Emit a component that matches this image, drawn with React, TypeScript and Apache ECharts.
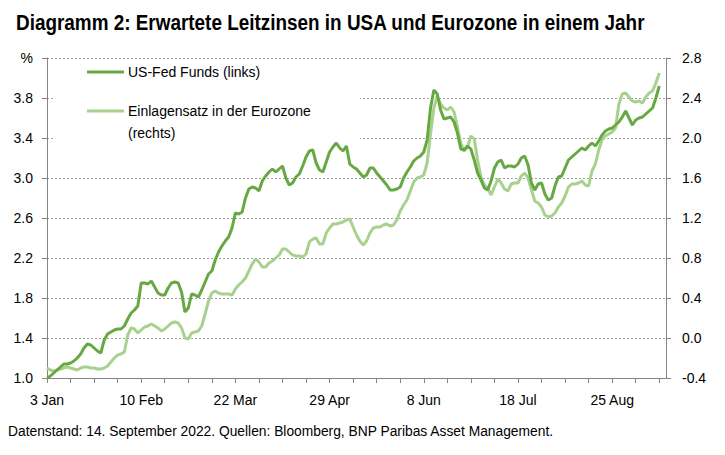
import React, { useEffect, useRef } from 'react'
import * as echarts from 'echarts'

// Erwartete Leitzinsen (Geschäftstage 3. Jan bis 14. Sep 2022)
const xTickLabels = ['3 Jan', '10 Feb', '22 Mar', '29 Apr', '8 Jun', '18 Jul', '25 Aug']

const fedFunds = [
  1.00, 1.02, 1.05, 1.08, 1.11, 1.14, 1.14, 1.15, 1.17, 1.20,
  1.24, 1.30, 1.34, 1.33, 1.30, 1.27, 1.25, 1.38, 1.44, 1.46,
  1.48, 1.49, 1.49, 1.52, 1.59, 1.65, 1.68, 1.72, 1.95, 1.95,
  1.94, 1.97, 1.91, 1.85, 1.83, 1.83, 1.90, 1.95, 1.96, 1.95,
  1.86, 1.66, 1.70, 1.84, 1.83, 1.81, 1.88, 1.96, 2.04, 2.07,
  2.18, 2.26, 2.32, 2.37, 2.41, 2.50, 2.65, 2.64, 2.66, 2.80,
  2.89, 2.91, 2.90, 2.87, 2.97, 3.02, 3.06, 3.09, 3.06, 3.09,
  3.12, 3.00, 2.93, 2.95, 3.01, 3.04, 3.12, 3.21, 3.27, 3.28,
  3.15, 3.08, 3.06, 3.16, 3.26, 3.31, 3.35, 3.30, 3.27, 3.32,
  3.14, 3.11, 3.09, 3.05, 3.01, 3.03, 3.10, 3.10, 3.05, 3.01,
  2.97, 2.93, 2.88, 2.88, 2.89, 2.91, 3.00, 3.06, 3.11, 3.17,
  3.20, 3.22, 3.26, 3.38, 3.70, 3.88, 3.84, 3.68, 3.59, 3.60,
  3.61, 3.56, 3.45, 3.29, 3.28, 3.32, 3.29, 3.18, 3.05, 2.98,
  2.90, 2.88, 2.97, 3.10, 3.16, 3.18, 3.10, 3.12, 3.12, 3.11,
  3.14, 3.20, 3.22, 3.13, 2.95, 2.88, 2.94, 2.95, 2.84, 2.78,
  2.80, 2.92, 3.01, 3.02, 3.10, 3.18, 3.21, 3.24, 3.27, 3.30,
  3.28, 3.32, 3.35, 3.32, 3.37, 3.43, 3.47, 3.49, 3.50, 3.53,
  3.56, 3.61, 3.67, 3.60, 3.53, 3.58, 3.60, 3.61, 3.64, 3.67,
  3.70, 3.80, 3.92
]

const euroDeposit = [
  -0.30, -0.32, -0.33, -0.32, -0.31, -0.30, -0.29, -0.30, -0.31, -0.32,
  -0.30, -0.29, -0.29, -0.30, -0.30, -0.31, -0.31, -0.30, -0.28, -0.24,
  -0.20, -0.17, -0.16, -0.14, 0.03, 0.10, 0.09, 0.05, 0.08, 0.11,
  0.12, 0.14, 0.12, 0.10, 0.07, 0.09, 0.12, 0.15, 0.16, 0.15,
  0.10, 0.00, -0.01, 0.05, 0.06, 0.07, 0.12, 0.24, 0.37, 0.45,
  0.47, 0.45, 0.44, 0.44, 0.44, 0.43, 0.49, 0.53, 0.56, 0.60,
  0.67, 0.74, 0.79, 0.76, 0.71, 0.71, 0.75, 0.77, 0.80, 0.83,
  0.89, 0.89, 0.86, 0.83, 0.82, 0.82, 0.81, 0.84, 0.96, 0.99,
  1.00, 0.94, 0.94, 1.05, 1.10, 1.14, 1.14, 1.15, 1.16, 1.18,
  1.19, 1.11, 1.03, 0.97, 0.93, 0.97, 1.05, 1.10, 1.11, 1.11,
  1.13, 1.14, 1.12, 1.13, 1.18, 1.27, 1.33, 1.38, 1.47, 1.56,
  1.60, 1.61, 1.63, 1.75, 2.04, 2.30, 2.42, 2.34, 2.30, 2.28,
  2.31, 2.26, 2.11, 1.95, 1.87, 1.91, 2.02, 1.99, 1.78, 1.61,
  1.53, 1.50, 1.43, 1.51, 1.59, 1.55, 1.49, 1.47, 1.54, 1.55,
  1.55, 1.62, 1.65, 1.60, 1.48, 1.37, 1.35, 1.31, 1.23, 1.21,
  1.22, 1.25, 1.31, 1.35, 1.42, 1.51, 1.54, 1.54, 1.55, 1.57,
  1.53, 1.52, 1.67, 1.74, 1.88, 1.98, 2.02, 2.04, 2.06, 2.10,
  2.34, 2.44, 2.45, 2.41, 2.37, 2.36, 2.37, 2.35, 2.41, 2.45,
  2.47, 2.55, 2.65
]

// zwei leere Tage am Ende, damit die Achse etwas über den letzten Wert hinausreicht
const days = Array.from({ length: fedFunds.length + 2 }, (_, i) => String(i))

const DARK = '#67a843'
const LIGHT = '#a9d18e'
const AXIS = '#868686'
const FONT = "'Liberation Sans', Arial, sans-serif"

const App: React.FC = () => {
  const chartRef = useRef<HTMLDivElement>(null)

  useEffect(() => {
    if (!chartRef.current) return
    const chart = echarts.init(chartRef.current, undefined, { renderer: 'svg' })

    const option: echarts.EChartsOption = {
      animation: false,
      textStyle: { fontFamily: FONT },
      grid: { left: 47, right: 59, top: 58, bottom: 77 },
      xAxis: {
        type: 'category',
        data: days,
        boundaryGap: false,
        axisLine: { onZero: false, lineStyle: { color: AXIS } },
        axisTick: { interval: 6, length: 5, lineStyle: { color: AXIS } },
        axisLabel: {
          interval: 27,
          margin: 15,
          fontSize: 14,
          color: '#000',
          formatter: (_v: string, idx: number) => xTickLabels[idx / 28] ?? ''
        },
        splitLine: { show: false }
      },
      yAxis: [
        {
          type: 'value',
          min: 1.0,
          max: 4.2,
          interval: 0.4,
          axisLine: { show: true, lineStyle: { color: AXIS } },
          axisTick: { show: true, length: 5, lineStyle: { color: AXIS } },
          axisLabel: {
            margin: 14,
            fontSize: 14,
            color: '#000',
            formatter: (v: number) => (v > 4.1 ? '%' : v.toFixed(1))
          },
          splitLine: { lineStyle: { color: '#a0a0a0', type: [2, 2], width: 1 } }
        },
        {
          type: 'value',
          position: 'right',
          min: -0.4,
          max: 2.8,
          interval: 0.4,
          axisLine: { show: true, lineStyle: { color: AXIS } },
          axisTick: { show: true, length: 5, lineStyle: { color: AXIS } },
          axisLabel: {
            margin: 16,
            fontSize: 14,
            color: '#000',
            formatter: (v: number) => v.toFixed(1)
          },
          splitLine: { show: false }
        }
      ],
      graphic: [
        {
          type: 'text', x: 16, y: 22, scaleX: 0.86,
          style: {
            text: 'Diagramm 2: Erwartete Leitzinsen in USA und Eurozone in einem Jahr',
            fontSize: 22, fontWeight: 'bold', fontFamily: FONT, fill: '#000', verticalAlign: 'middle'
          }
        },
        { type: 'rect', z: 1, shape: { x: 55, y: 62, width: 305, height: 84 }, style: { fill: '#fff' } },
        { type: 'line', z: 3, shape: { x1: 87, y1: 72, x2: 124, y2: 72 }, style: { stroke: DARK, lineWidth: 3 } },
        {
          type: 'text', z: 3, x: 128, y: 72,
          style: { text: 'US-Fed Funds (links)', fontSize: 14, fontFamily: FONT, fill: '#000', verticalAlign: 'middle' }
        },
        { type: 'line', z: 3, shape: { x1: 87, y1: 111, x2: 124, y2: 111 }, style: { stroke: LIGHT, lineWidth: 3 } },
        {
          type: 'text', z: 3, x: 128, y: 100,
          style: {
            text: 'Einlagensatz in der Eurozone\n(rechts)',
            fontSize: 14, lineHeight: 22, fontFamily: FONT, fill: '#000', verticalAlign: 'top'
          }
        },
        {
          type: 'text', x: 8, y: 431,
          style: {
            text: 'Datenstand: 14. September 2022. Quellen: Bloomberg, BNP Paribas Asset Management.',
            fontSize: 13.8, fontFamily: FONT, fill: '#000', verticalAlign: 'middle'
          }
        }
      ],
      series: [
        {
          name: 'Einlagensatz in der Eurozone (rechts)',
          type: 'line',
          yAxisIndex: 1,
          data: euroDeposit,
          showSymbol: false,
          lineStyle: { color: LIGHT, width: 3 },
          itemStyle: { color: LIGHT }
        },
        {
          name: 'US-Fed Funds (links)',
          type: 'line',
          yAxisIndex: 0,
          data: fedFunds,
          showSymbol: false,
          lineStyle: { color: DARK, width: 3 },
          itemStyle: { color: DARK }
        }
      ]
    }

    chart.setOption(option)
    return () => chart.dispose()
  }, [])

  return (
    <div
      ref={chartRef}
      style={{ position: 'absolute', left: 0, top: 0, width: 725, height: 455, background: '#fff' }}
    />
  )
}

export default App
